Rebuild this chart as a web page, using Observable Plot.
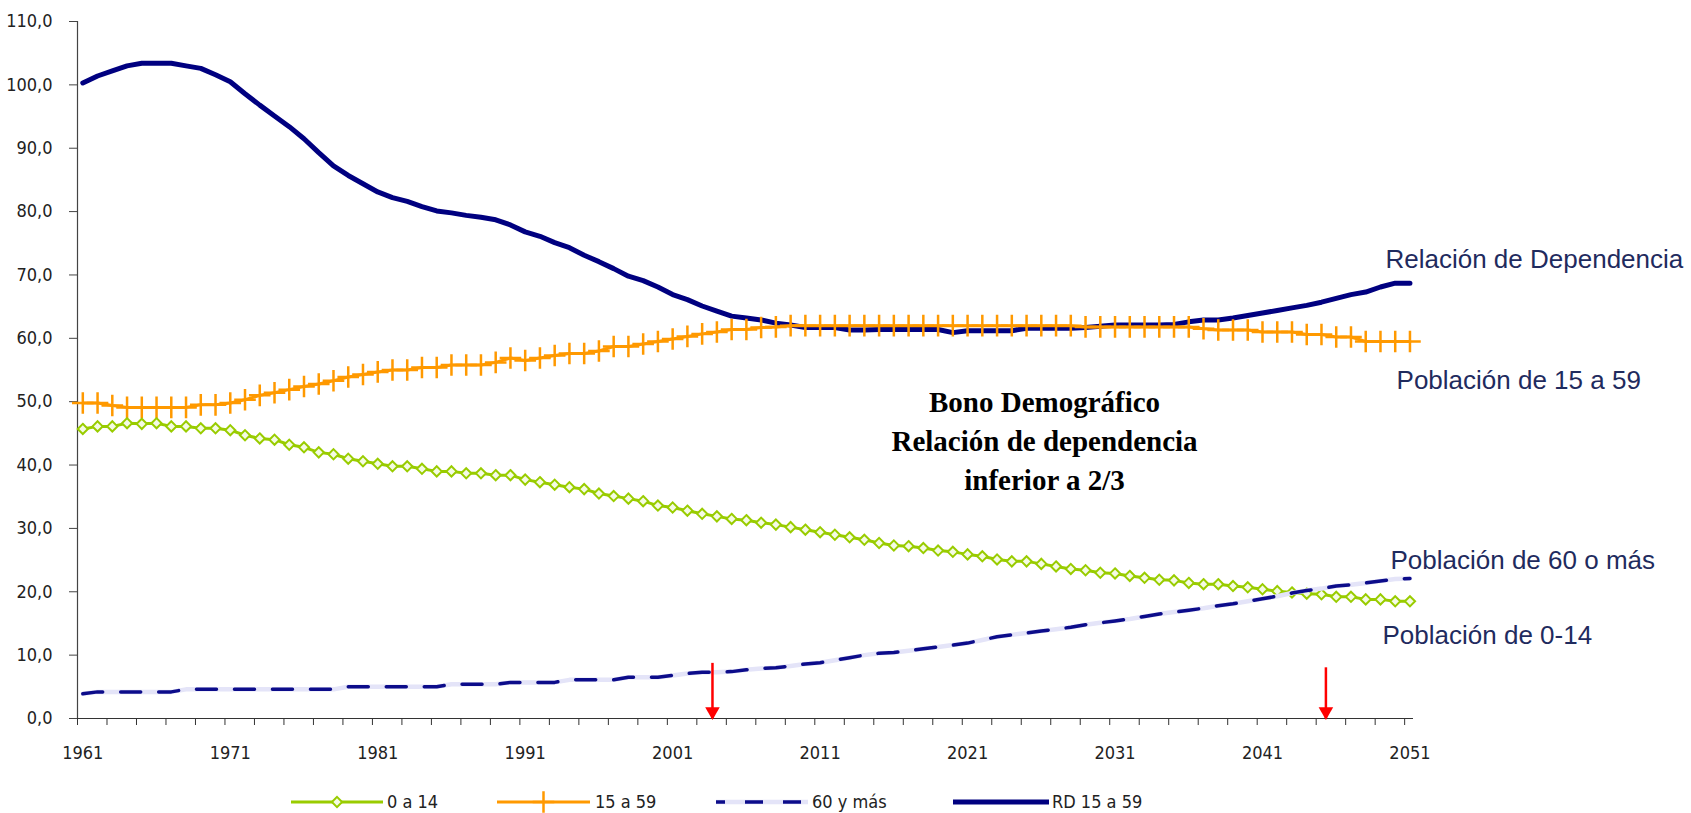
<!DOCTYPE html>
<html><head><meta charset="utf-8">
<script src="https://cdn.jsdelivr.net/npm/d3@7"></script>
<script src="https://cdn.jsdelivr.net/npm/@observablehq/plot@0.6"></script>
<style>
body{margin:0;background:#fff;}
#wrap{position:relative;width:1691px;}
#legend{position:relative;height:31px;width:1691px;}
#legend span{position:absolute;top:11px;font-family:"Liberation Sans Narrow","DejaVu Sans Condensed",sans-serif;font-size:18px;line-height:18px;color:#222;white-space:nowrap;}
</style></head><body>
<div id="wrap"><div id="chart"></div><div id="legend"></div></div>
<script>
// ---- Data ----
const years = d3.range(1961, 2052); // 1961..2051

const pob0_14 = [
45.7,46.1,46.1,46.6,46.5,46.6,46.1,46.1,45.8,45.8,
45.5,44.7,44.2,44.0,43.2,42.8,42.0,41.7,41.0,40.6,
40.2,39.8,39.8,39.4,39.0,39.0,38.7,38.7,38.4,38.4,
37.7,37.3,36.9,36.5,36.2,35.5,35.1,34.7,34.3,33.6,
33.3,32.8,32.3,31.9,31.5,31.3,30.9,30.6,30.2,29.8,
29.4,29.0,28.6,28.2,27.7,27.3,27.2,26.9,26.5,26.3,
25.9,25.6,25.1,24.8,24.8,24.4,24.0,23.6,23.4,23.0,
22.9,22.5,22.2,21.9,21.8,21.4,21.2,21.2,20.9,20.7,
20.4,20.1,19.9,19.7,19.6,19.2,19.2,18.8,18.8,18.5,
18.5];

const pob15_59 = [
49.8,49.8,49.4,49.1,49.1,49.1,49.1,49.1,49.5,49.5,
49.8,50.3,51.0,51.4,51.9,52.4,52.8,53.3,53.9,54.3,
54.7,55.0,55.0,55.4,55.4,55.8,55.8,55.8,56.2,56.9,
56.5,56.9,57.3,57.6,57.6,58.0,58.7,58.7,59.1,59.5,
59.9,60.3,60.7,61.0,61.4,61.4,61.7,61.8,62.0,62.0,
62.0,62.0,62.0,62.0,62.0,62.0,62.0,62.0,62.0,62.0,
62.0,62.0,62.0,62.0,62.0,62.0,62.0,62.0,61.8,61.8,
61.8,61.8,61.8,61.8,61.8,61.8,61.5,61.3,61.3,61.3,
61.0,61.0,61.0,60.6,60.6,60.2,60.2,59.5,59.5,59.5,
59.5];

const pob60 = [
3.9,4.2,4.2,4.2,4.2,4.2,4.2,4.6,4.6,4.6,
4.6,4.6,4.6,4.6,4.6,4.6,4.6,4.6,5.0,5.0,
5.0,5.0,5.0,5.0,5.0,5.4,5.4,5.4,5.4,5.7,
5.7,5.7,5.7,6.1,6.1,6.1,6.1,6.5,6.5,6.5,
6.8,7.1,7.3,7.3,7.4,7.7,7.9,8.0,8.3,8.6,
8.8,9.2,9.6,10.0,10.3,10.4,10.7,11.0,11.3,11.6,
11.9,12.4,12.9,13.2,13.5,13.8,14.1,14.4,14.8,15.1,
15.4,15.7,16.1,16.5,16.8,17.1,17.4,17.8,18.1,18.5,
18.9,19.3,19.8,20.2,20.5,20.9,21.1,21.4,21.7,22.0,
22.1];

const rd15_59 = [
100.3,101.4,102.2,103.0,103.4,103.4,103.4,103.0,102.6,101.6,
100.5,98.6,96.8,95.1,93.4,91.5,89.3,87.2,85.7,84.4,
83.1,82.2,81.6,80.8,80.1,79.8,79.4,79.1,78.7,77.9,
76.8,76.1,75.1,74.3,73.1,72.1,71.0,69.8,69.1,68.1,
66.9,66.1,65.1,64.3,63.5,63.2,62.9,62.4,62.1,61.7,
61.7,61.7,61.3,61.3,61.4,61.4,61.4,61.4,61.4,60.9,
61.2,61.2,61.2,61.2,61.6,61.6,61.6,61.6,61.7,61.9,
62.1,62.1,62.1,62.1,62.2,62.6,62.9,62.9,63.2,63.6,
64.0,64.4,64.8,65.2,65.7,66.3,66.9,67.3,68.1,68.7,
68.7];

const seriesNames = ["0 a 14", "15 a 59", "60 y más", "RD 15 a 59"];
const xLabelYears = [1961, 1971, 1981, 1991, 2001, 2011, 2021, 2031, 2041, 2051];
const yTicks = [0, 10, 20, 30, 40, 50, 60, 70, 80, 90, 100, 110];

// Arrows marking start and end of the demographic bonus
const arrowYears = [2003.7, 2045.3];
const arrowTops = [8.7, 8.0];

// Right-side annotations (anchored in data units: year, value)
const annoLabels = ["Relación de Dependencia", "Población de 15 a 59", "Población de 60 o más", "Población de 0-14"];
const annoYears = [2049.34, 2050.09, 2049.68, 2049.14];
const annoValues = [72.4, 53.3, 24.9, 13.1];

const bonoText = "Bono Demográfico\nRelación de dependencia\ninferior a 2/3";
const bonoAnchor = {year: 2026.22, value: 44.2};

// ---- Build tables ----
const table = years.map((year, i) => ({
  year, p014: pob0_14[i], p1559: pob15_59[i], p60: pob60[i], rd: rd15_59[i]
}));
const arrows = arrowYears.map((year, i) => ({year, top: arrowTops[i]}));
const annos = annoLabels.map((label, i) => ({label, year: annoYears[i], value: annoValues[i]}));

const xDomain = [1960.64, 2051.24];
const minorTicks = d3.range(xDomain[0], 2052, 2);
const fmt = d => d.toFixed(1).replace(".", ",");

const NAVY = "#000080", ORANGE = "#FF9900", GREEN = "#99CC00", LAV = "#E4E4F8", DASH = "#0c0c8a";
const narrow = "'Liberation Sans Narrow','DejaVu Sans Condensed',sans-serif";

const chart = Plot.plot({
  width: 1691, height: 782,
  marginLeft: 77, marginRight: 278, marginTop: 21, marginBottom: 64,
  x: {domain: xDomain},
  y: {domain: [0, 110]},
  style: {fontFamily: narrow, fontSize: "18px", color: "#222", background: "white", overflow: "visible"},
  marks: [
    Plot.axisY({ticks: yTicks, tickSize: 8, tickPadding: 17, tickFormat: fmt, label: null, stroke: "#444"}),
    Plot.axisX({ticks: xLabelYears, tickSize: 0, tickPadding: 28, tickFormat: d => String(d), label: null}),
    Plot.axisX({ticks: minorTicks, tickSize: 7, tickFormat: () => "", label: null, stroke: "#333"}),
    Plot.ruleY([0], {stroke: "#333", strokeWidth: 1.2}),
    Plot.ruleX([xDomain[0]], {stroke: "#444", strokeWidth: 1.2}),
    // RD
    Plot.line(table, {x: "year", y: "rd", stroke: NAVY, strokeWidth: 5, strokeLinejoin: "round"}),
    // 15 a 59
    Plot.line(table, {x: "year", y: "p1559", stroke: ORANGE, strokeWidth: 3}),
    Plot.dot(table, {x: "year", y: "p1559", symbol: "plus", r: 7, stroke: ORANGE, strokeWidth: 2.5}),
    // 0 a 14
    Plot.line(table, {x: "year", y: "p014", stroke: GREEN, strokeWidth: 3}),
    Plot.dot(table, {x: "year", y: "p014", symbol: "diamond2", r: 4.6, stroke: GREEN, fill: "#f4fbe4", strokeWidth: 2}),
    // 60 y más
    Plot.line(table, {x: "year", y: "p60", stroke: LAV, strokeWidth: 4.5}),
    Plot.line(table, {x: "year", y: "p60", stroke: DASH, strokeWidth: 3.5, strokeDasharray: "20,18"}),
    // arrows
    Plot.ruleX(arrows, {x: "year", y1: "top", y2: 0, stroke: "#FF0000", strokeWidth: 2.5}),
    Plot.dot(arrows, {x: "year", y: 0, symbol: "triangle", rotate: 180, r: 5.4, fill: "#FF0000", stroke: "none", dy: -7}),
    // annotations
    Plot.text(annos, {x: "year", y: "value", text: "label", textAnchor: "start", fontSize: 26,
      fontFamily: "'Liberation Sans',Arial,sans-serif", fill: "#1F2B5E"}),
    Plot.text([bonoText], {x: () => bonoAnchor.year, y: () => bonoAnchor.value, text: d => d,
      fontSize: 29, fontWeight: "bold", fontFamily: "'Liberation Serif','Times New Roman',serif",
      lineHeight: 1.34, fill: "#000", letterSpacing: -0.5})
  ]
});
document.getElementById("chart").appendChild(chart);

// ---- Legend (below the SVG) ----
const legendSpec = [
  {name: seriesNames[0], x1: 291, x2: 383, lx: 387},
  {name: seriesNames[1], x1: 497, x2: 590, lx: 595},
  {name: seriesNames[2], x1: 716, x2: 808, lx: 812},
  {name: seriesNames[3], x1: 953, x2: 1049, lx: 1052}
];
const leg = d3.select("#legend");
const lsvg = leg.append("svg").attr("width", 1691).attr("height", 31).style("position", "absolute").style("left", 0).style("top", 0);
const cy = 20;
// 0 a 14
lsvg.append("line").attr("x1", legendSpec[0].x1).attr("x2", legendSpec[0].x2).attr("y1", cy).attr("y2", cy).attr("stroke", GREEN).attr("stroke-width", 3);
lsvg.append("path").attr("d", d3.symbol(d3.symbolDiamond2, 66)()).attr("transform", `translate(${(legendSpec[0].x1 + legendSpec[0].x2) / 2},${cy})`).attr("stroke", GREEN).attr("stroke-width", 2).attr("fill", "#f4fbe4");
// 15 a 59
lsvg.append("line").attr("x1", legendSpec[1].x1).attr("x2", legendSpec[1].x2).attr("y1", cy).attr("y2", cy).attr("stroke", ORANGE).attr("stroke-width", 3);
lsvg.append("path").attr("d", d3.symbol(d3.symbolPlus, 154)()).attr("transform", `translate(${(legendSpec[1].x1 + legendSpec[1].x2) / 2},${cy})`).attr("stroke", ORANGE).attr("stroke-width", 2.5).attr("fill", "none");
// 60 y más
lsvg.append("line").attr("x1", legendSpec[2].x1).attr("x2", legendSpec[2].x2).attr("y1", cy).attr("y2", cy).attr("stroke", LAV).attr("stroke-width", 4.5);
lsvg.append("line").attr("x1", legendSpec[2].x1).attr("x2", legendSpec[2].x2).attr("y1", cy).attr("y2", cy).attr("stroke", DASH).attr("stroke-width", 3.5).attr("stroke-dasharray", "18,20").attr("stroke-dashoffset", 9);
// RD
lsvg.append("line").attr("x1", legendSpec[3].x1).attr("x2", legendSpec[3].x2).attr("y1", cy).attr("y2", cy).attr("stroke", NAVY).attr("stroke-width", 5);
legendSpec.forEach(d => leg.append("span").style("left", d.lx + "px").text(d.name));
</script>
</body></html>
